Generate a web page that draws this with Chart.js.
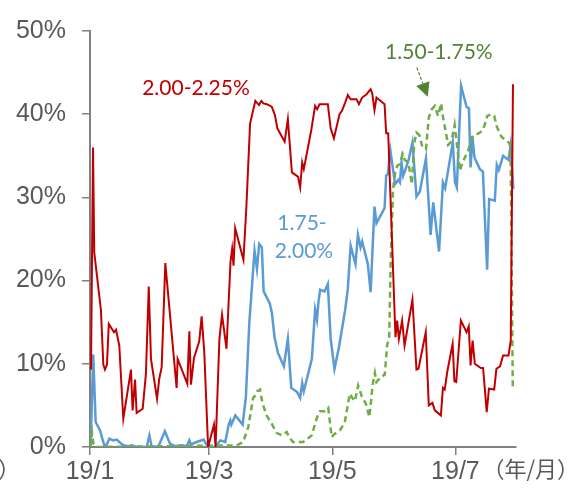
<!DOCTYPE html>
<html>
<head>
<meta charset="utf-8">
<script src="https://cdn.jsdelivr.net/npm/chart.js@4.4.1/dist/chart.umd.min.js"></script>
<style>
  html, body { margin: 0; padding: 0; background: #fff; }
  #wrap { position: relative; width: 583px; height: 490px; }
</style>
</head>
<body>
<div id="wrap"><canvas id="chartRates"></canvas></div>
<script>
// ── Data: x = days since 2019/1/1, y = probability (%) ─────
const tickDays = [0, 59, 120, 181];
const tickLabels = ['19/1', '19/3', '19/5', '19/7'];
const yTicks = [0, 10, 20, 30, 40, 50];

// 2.00-2.25%
const redDays = [0.5, 1.5, 2.1, 5.4, 6.6, 7.4, 8.4, 9.3, 11.9, 12.9, 13.4, 14.5, 16.5, 20.3, 21.1, 22.3, 23.1, 26.1, 27.7, 29.1,
  30.2, 33.2, 34.3, 35.5, 37.3, 42.9, 43.4, 48.2, 49.2, 50.0, 51.5, 54.1, 55.3, 56.6, 58.5, 61.4, 62.2, 64.1, 65.4, 67.6,
  69.6, 70.4, 71.1, 71.9, 76.0, 77.4, 79.3, 81.9, 83.7, 84.9, 85.9, 87.6, 90.0, 91.6, 92.8, 96.4, 98.0, 100.0, 103.0, 104.1,
  105.1, 105.9, 109.6, 111.5, 112.5, 113.7, 117.8, 119.2, 120.8, 123.6, 124.8, 126.1, 127.7, 129.1, 132.0, 133.2, 134.8, 137.0, 139.0, 139.8,
  140.9, 141.9, 145.9, 146.7, 147.7, 151.3, 152.1, 153.0, 154.6, 155.8, 159.7, 161.7, 162.7, 166.3, 167.8, 169.6, 170.8, 173.8, 174.8, 175.7,
  177.0, 179.6, 180.5, 181.4, 183.7, 186.5, 187.6, 188.5, 189.5, 190.6, 193.6, 194.7, 196.5, 197.6, 200.2, 201.3, 203.1, 204.6, 207.3, 208.4, 209.5];
const redValues = [9.3, 36.0, 23.4, 16.5, 9.9, 9.3, 9.9, 14.8, 13.8, 14.1, 13.5, 12.2, 3.4, 9.3, 4.4, 8.1, 4.1, 4.6, 8.8, 19.3,
  10.6, 5.8, 8.2, 9.6, 22.1, 7.1, 10.6, 7.6, 13.9, 7.5, 10.7, 12.7, 15.7, 11.4, 0, 2.7, 0, 13.0, 15.9, 11.8,
  22.3, 23.8, 21.8, 26.3, 22.5, 28.6, 38.9, 41.6, 41.1, 41.6, 41.3, 41.2, 40.9, 39.9, 38.3, 36.7, 39.4, 33.0, 32.5, 31.2,
  34.2, 33.4, 38.1, 41.0, 40.6, 41.2, 41.2, 38.3, 37.1, 40.0, 40.4, 41.2, 42.3, 41.8, 41.8, 41.2, 42.0, 42.4, 43.0, 42.5,
  40.5, 42.0, 41.2, 37.7, 37.7, 13.2, 15.2, 13.0, 15.2, 12.2, 17.7, 9.3, 9.4, 13.8, 5.0, 5.3, 4.4, 3.8, 7.1, 6.9,
  9.1, 12.4, 7.9, 7.8, 15.2, 13.8, 14.5, 9.8, 12.8, 10.0, 9.5, 9.5, 4.2, 7.0, 6.9, 9.4, 9.7, 11.0, 11.0, 12.8, 43.6];

// 1.75-2.00%
const blueDays = [0.3, 1.6, 2.8, 5.0, 6.1, 7.1, 8.3, 9.6, 11.5, 13.2, 14.5, 16.5, 19.0, 20.6, 23.1, 28.1, 29.4, 30.5, 33.8, 37.1,
  39.6, 42.1, 45.4, 47.9, 49.2, 50.0, 52.8, 56.3, 58.4, 62.0, 64.5, 67.0, 68.7, 69.5, 70.0, 72.0, 75.6, 77.2, 78.9, 81.5,
  82.7, 83.8, 85.1, 86.0, 89.0, 90.1, 91.4, 93.1, 96.0, 98.0, 99.7, 102.6, 104.1, 105.1, 105.9, 109.9, 111.5, 112.4, 113.2, 114.0,
  116.2, 117.8, 119.2, 121.1, 123.3, 126.4, 127.7, 129.1, 131.5, 132.7, 134.0, 134.8, 137.6, 139.0, 140.9, 141.9, 145.9, 146.7, 147.5, 148.8,
  151.1, 152.7, 153.5, 154.3, 155.1, 156.2, 157.8, 159.7, 161.7, 163.4, 166.4, 168.7, 170.0, 172.9, 174.8, 175.9, 179.7, 180.8, 181.7, 183.8,
  186.5, 187.7, 188.5, 189.4, 190.4, 193.1, 194.6, 196.7, 197.7, 200.5, 201.5, 202.5, 204.6, 207.3, 208.3, 209.7];
const blueValues = [0, 11.1, 3.0, 2.0, 1.0, 0.2, 0.3, 1.0, 0.8, 0.9, 0.6, 0.2, 0.1, 0.2, 0, 0, 1.4, 0.1, 0, 1.9,
  0.4, 0.1, 0.2, 0.1, 0.8, 0.3, 0.6, 0.9, 0, 0, 0.8, 0.6, 2.7, 3.2, 2.7, 3.8, 2.7, 6.0, 14.9, 23.6,
  21.4, 24.4, 24.0, 18.7, 17.3, 16.1, 13.2, 11.3, 9.7, 13.0, 7.1, 6.6, 5.9, 7.7, 6.7, 10.6, 16.5, 15.3, 17.5, 18.9,
  18.7, 19.6, 13.0, 9.4, 12.0, 16.5, 19.0, 24.2, 22.0, 25.5, 24.0, 24.7, 22.0, 18.6, 28.9, 26.9, 28.7, 32.6, 32.8, 35.6,
  31.6, 32.1, 31.8, 34.2, 32.6, 33.3, 34.5, 36.6, 30.1, 30.7, 34.7, 25.5, 29.4, 23.5, 31.8, 31.1, 36.6, 31.8, 31.2, 43.4,
  40.9, 40.7, 33.6, 37.4, 34.8, 33.4, 33.1, 21.3, 29.8, 29.6, 33.9, 33.3, 35.0, 34.5, 36.2, 31.0];

// 1.50-1.75%
const greenDays = [0.3, 1.0, 1.6, 3.0, 72.6, 75.9, 78.4, 80.8, 82.0, 82.8, 84.2, 85.5, 87.5, 90.0, 92.4, 94.9, 97.4, 98.7, 100.5, 105.6,
  107.3, 109.8, 112.5, 113.9, 116.3, 118.0, 119.7, 120.8, 123.8, 126.2, 128.7, 130.2, 131.2, 132.8, 134.6, 136.6, 138.4, 140.0, 141.1, 141.9,
  143.6, 146.0, 147.2, 148.2, 148.9, 150.1, 151.2, 152.2, 153.5, 154.9, 155.9, 157.7, 159.4, 160.6, 161.7, 163.1, 164.6, 166.4, 167.8, 169.3,
  170.8, 172.4, 173.9, 174.9, 177.4, 179.0, 180.6, 181.9, 183.2, 184.5, 187.3, 189.1, 193.1, 194.7, 196.8, 198.8, 200.2, 201.5, 203.8, 207.9,
  208.4, 209.4];
const greenValues = [0, 1.7, 0.5, 0, 0.2, 0.6, 2.4, 5.9, 6.2, 6.7, 6.9, 5.2, 3.8, 2.8, 1.7, 1.4, 1.8, 1.2, 0.6, 0.6,
  0.9, 1.4, 3.6, 4.3, 4.3, 4.7, 1.2, 1.5, 2.0, 3.0, 6.4, 5.8, 5.5, 7.4, 6.1, 5.2, 3.6, 7.5, 8.9, 7.8,
  8.3, 8.7, 12.3, 13.0, 22.0, 31.0, 33.0, 33.8, 34.0, 35.2, 34.5, 34.2, 31.6, 36.5, 37.8, 37.5, 36.1, 35.8, 39.6, 40.6,
  41.0, 39.8, 41.3, 39.6, 36.3, 36.7, 38.7, 36.0, 33.2, 34.2, 35.6, 37.2, 37.8, 38.1, 39.8, 40.0, 39.8, 38.5, 37.3, 36.5,
  33.8, 7.2];

const toPoints = (days, vals) => days.map((d, i) => ({ x: d, y: vals[i] }));

// ── Series labels + arrow + unit labels ──────────────────
const annotate = {
    id: 'annotate',
    afterDatasetsDraw(chart) {
        const { ctx, scales: { x, y } } = chart;
        ctx.save();
        ctx.textAlign = 'center';
        ctx.textBaseline = 'middle';
        ctx.font = "21px Lato";

        ctx.fillStyle = '#C00000';
        ctx.fillText('2.00-2.25%', x.getPixelForValue(52.5), y.getPixelForValue(43.1));

        ctx.fillStyle = '#5B9BD5';
        ctx.fillText('1.75-', x.getPixelForValue(105), y.getPixelForValue(26.9));
        ctx.fillText('2.00%', x.getPixelForValue(106), y.getPixelForValue(23.5));

        ctx.fillStyle = '#538135';
        ctx.fillText('1.50-1.75%', x.getPixelForValue(172.8), y.getPixelForValue(47.5));

        // dashed arrow to the green line
        const x0 = x.getPixelForValue(161.9), y0 = y.getPixelForValue(45.6);
        const x1 = x.getPixelForValue(167.3), y1 = y.getPixelForValue(42.1);
        const ang = Math.atan2(y1 - y0, x1 - x0);
        const head = 14, half = 7;
        const bx = x1 - head * Math.cos(ang), by = y1 - head * Math.sin(ang);
        ctx.strokeStyle = '#538135';
        ctx.lineWidth = 1.2;
        ctx.setLineDash([3, 2]);
        ctx.beginPath();
        ctx.moveTo(x0, y0);
        ctx.lineTo(bx, by);
        ctx.stroke();
        ctx.setLineDash([]);
        ctx.fillStyle = '#538135';
        ctx.beginPath();
        ctx.moveTo(x1, y1);
        ctx.lineTo(bx + half * Math.sin(ang), by - half * Math.cos(ang));
        ctx.lineTo(bx - half * Math.sin(ang), by + half * Math.cos(ang));
        ctx.closePath();
        ctx.fill();

        // units
        ctx.fillStyle = '#595959';
        ctx.font = "22px 'Noto Sans CJK JP'";
        ctx.textAlign = 'right';
        ctx.fillText('（年/月）', chart.width - 4, x.bottom - 21);
        ctx.textAlign = 'left';
        ctx.fillText('）', -2, x.bottom - 21);
        ctx.restore();
    }
};

const axisColor = '#808080';
const tickColor = '#595959';

new Chart(document.getElementById('chartRates'), {
    type: 'line',
    data: {
        datasets: [
            {
                label: '2.00-2.25%', data: toPoints(redDays, redValues),
                borderColor: '#C00000', borderWidth: 2, pointRadius: 0, tension: 0
            },
            {
                label: '1.50-1.75%', data: toPoints(greenDays, greenValues),
                borderColor: '#70AD47', borderWidth: 2.5, borderDash: [6, 4], pointRadius: 0, tension: 0
            },
            {
                label: '1.75-2.00%', data: toPoints(blueDays, blueValues),
                borderColor: '#5B9BD5', borderWidth: 2.5, pointRadius: 0, tension: 0
            }
        ]
    },
    options: {
        responsive: true, maintainAspectRatio: false, animation: false,
        layout: { padding: { top: 21, right: 67, bottom: 0, left: 0 } },
        plugins: { legend: { display: false }, tooltip: { enabled: false } },
        scales: {
            x: {
                type: 'linear', min: 0, max: 211,
                afterBuildTicks: ax => { ax.ticks = tickDays.map(v => ({ value: v })); },
                afterFit: s => { s.height = 43; },
                grid: { drawOnChartArea: false, color: axisColor, lineWidth: 1.5, tickLength: 8 },
                border: { color: axisColor, width: 2 },
                ticks: {
                    autoSkip: false, maxRotation: 0, padding: 2, color: tickColor,
                    font: { family: "'Liberation Sans', Arial, sans-serif", size: 25 },
                    callback: v => tickLabels[tickDays.indexOf(v)]
                }
            },
            y: {
                min: 0, max: 50,
                afterBuildTicks: ax => { ax.ticks = yTicks.map(v => ({ value: v })); },
                afterFit: s => { s.width = 90; },
                grid: { drawOnChartArea: false, color: axisColor, lineWidth: 1.5, tickLength: 8 },
                border: { color: axisColor, width: 2 },
                ticks: {
                    padding: 16, color: tickColor,
                    font: { family: "'Liberation Sans', Arial, sans-serif", size: 25 },
                    callback: v => v + '%'
                }
            }
        }
    },
    plugins: [annotate]
});
</script>
</body>
</html>
